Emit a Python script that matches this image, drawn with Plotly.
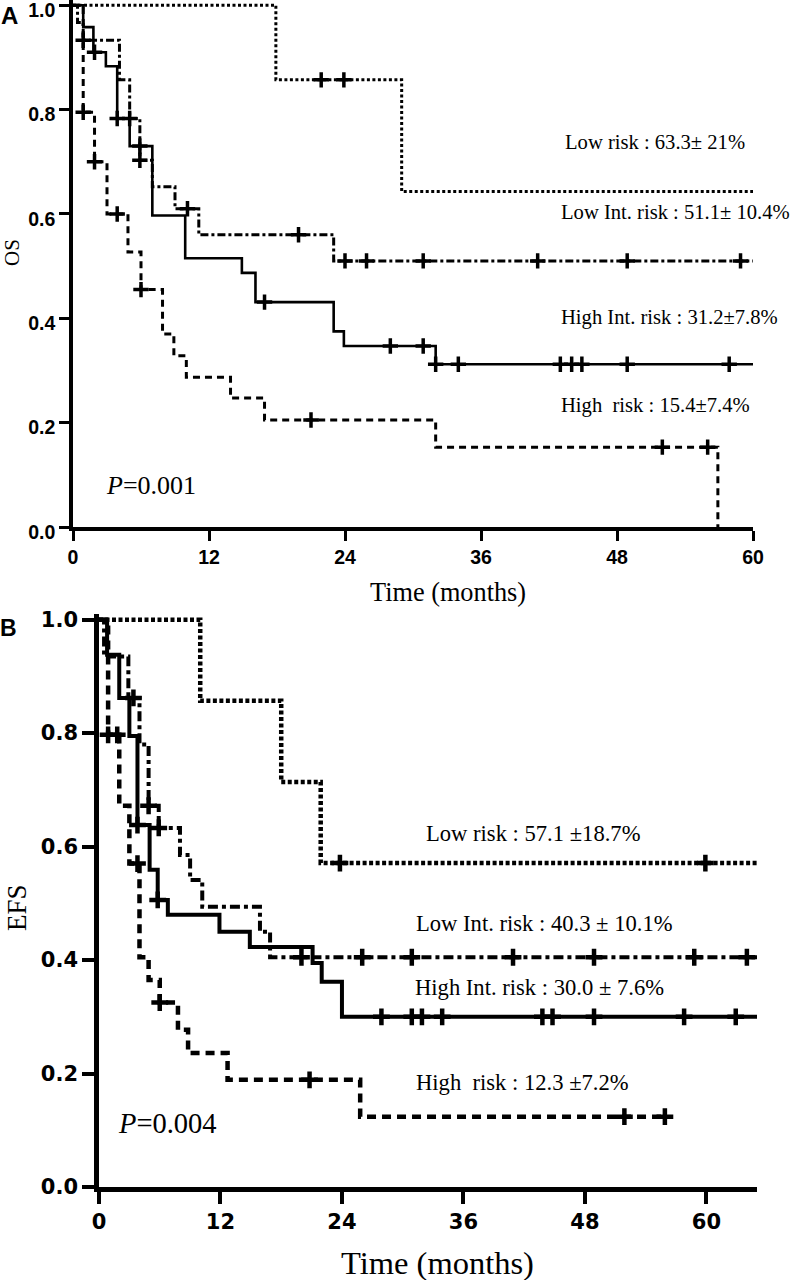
import plotly.graph_objects as go

W, H = 794, 1280

# ---------------- DATA ----------------
# Panel A : overall survival (OS)
os_low_t = [17.9, 29.0]
os_low_s = [0.857, 0.643]
os_low_end = 60
os_low_cens = [21.9, 23.9]

os_lowint_t = [0.4, 0.9, 4.1, 5.0, 5.9, 7.0, 9.0, 11.1, 23.0]
os_lowint_s = [0.967, 0.933, 0.857, 0.783, 0.703, 0.652, 0.61, 0.56, 0.51]
os_lowint_end = 60
os_lowint_cens = [0.9, 5.0, 5.9, 10.1, 19.9, 24.0, 25.9, 30.9, 41.0, 48.9, 58.9]

os_highint_t = [0.9, 1.8, 2.9, 3.9, 5.0, 7.0, 9.9, 14.9, 16.1, 23.0, 23.9, 32.0]
os_highint_s = [0.958, 0.91, 0.883, 0.783, 0.73, 0.597, 0.515, 0.487, 0.431, 0.375, 0.347, 0.312]
os_highint_end = 60
os_highint_cens = [1.9, 3.9, 5.9, 16.9, 28.0, 30.9, 32.0, 34.0, 43.0, 44.0, 44.9, 48.9, 57.9]

os_high_t = [0.9, 1.9, 3.0, 4.85, 6.0, 7.9, 8.9, 10.0, 13.9, 16.9, 32.0, 56.9]
os_high_s = [0.795, 0.70, 0.60, 0.527, 0.455, 0.37, 0.328, 0.287, 0.247, 0.205, 0.153, 0.0]
os_high_end = 56.9
os_high_cens = [0.9, 1.9, 3.9, 6.0, 21.0, 52.0, 56.0]

# Panel B : event-free survival (EFS)
efs_low_t = [10.0, 18.0, 21.9]
efs_low_s = [0.857, 0.714, 0.571]
efs_low_end = 65
efs_low_cens = [23.8, 59.9]

efs_lowint_t = [0.5, 2.9, 4.0, 4.9, 5.9, 8.0, 9.0, 10.2, 15.9, 16.9]
efs_lowint_s = [0.935, 0.862, 0.78, 0.672, 0.633, 0.585, 0.541, 0.494, 0.45, 0.405]
efs_lowint_end = 65
efs_lowint_cens = [3.4, 4.9, 5.9, 20.0, 26.0, 30.9, 40.9, 48.9, 58.8, 64.0]

efs_highint_t = [0.8, 2.0, 3.0, 3.8, 5.0, 5.8, 6.8, 11.9, 14.9, 21.1, 22.0, 24.0]
efs_highint_s = [0.938, 0.862, 0.795, 0.638, 0.559, 0.506, 0.48, 0.45, 0.423, 0.395, 0.362, 0.30]
efs_highint_end = 65
efs_highint_cens = [3.8, 5.8, 27.9, 30.9, 31.9, 33.9, 43.8, 44.8, 48.9, 57.8, 62.9]

efs_high_t = [0.9, 2.0, 3.0, 4.0, 4.9, 6.0, 7.8, 8.8, 12.7, 25.8]
efs_high_s = [0.797, 0.672, 0.57, 0.405, 0.365, 0.325, 0.277, 0.236, 0.189, 0.124]
efs_high_end = 55.9
efs_high_cens = [0.9, 1.8, 3.8, 6.0, 20.8, 51.9, 55.9]

x_ticks_a = [0, 12, 24, 36, 48, 60]
x_ticks_b = [0, 12, 24, 36, 48, 60]
y_ticks = [0.0, 0.2, 0.4, 0.6, 0.8, 1.0]

labels_a = ["Low risk : 63.3± 21%", "Low Int. risk : 51.1± 10.4%",
            "High Int. risk : 31.2±7.8%", "High\u00a0 risk : 15.4±7.4%"]
labels_b = ["Low risk : 57.1 ±18.7%", "Low Int. risk : 40.3 ± 10.1%",
            "High Int. risk : 30.0 ± 7.6%", "High\u00a0 risk : 12.3 ±7.2%"]


# ---------------- HELPERS ----------------
def km_xy(times, surv, end):
    return [0] + list(times) + [end], [1.0] + list(surv) + [surv[-1]]


def km_at(times, surv, t):
    s = 1.0
    for ti, si in zip(times, surv):
        if ti <= t + 1e-9:
            s = si
    return s


def px(x):
    return x / W


def py(y):
    return 1 - y / H


fig = go.Figure()

panels = [
    ("x", "y",
     [(os_low_t, os_low_s, os_low_end, os_low_cens, "3px,2.5px", 3),
      (os_lowint_t, os_lowint_s, os_lowint_end, os_lowint_cens, "8px,3px,3px,3px", 3),
      (os_highint_t, os_highint_s, os_highint_end, os_highint_cens, "solid", 2.6),
      (os_high_t, os_high_s, os_high_end, os_high_cens, "7px,5px", 3)],
     11, 3.5),
    ("x2", "y2",
     [(efs_low_t, efs_low_s, efs_low_end, efs_low_cens, "4px,2.5px", 4.5),
      (efs_lowint_t, efs_lowint_s, efs_lowint_end, efs_lowint_cens, "10px,4px,4px,4px", 4),
      (efs_highint_t, efs_highint_s, efs_highint_end, efs_highint_cens, "solid", 4),
      (efs_high_t, efs_high_s, efs_high_end, efs_high_cens, "9px,6px", 4.5)],
     12, 4.5),
]

for xa, ya, series, msize, mlw in panels:
    for t, s, end, cens, dash, lw in series:
        xs, ys = km_xy(t, s, end)
        fig.add_trace(go.Scatter(x=xs, y=ys, mode="lines", xaxis=xa, yaxis=ya,
                                 line=dict(color="black", width=lw, dash=dash, shape="hv"),
                                 hoverinfo="skip"))
        fig.add_trace(go.Scatter(x=cens, y=[km_at(t, s, c) for c in cens], mode="markers",
                                 xaxis=xa, yaxis=ya,
                                 marker=dict(symbol="cross-thin", size=msize, color="black",
                                             line=dict(width=mlw, color="black")),
                                 hoverinfo="skip"))

tick_a = dict(family="Liberation Sans", size=19.5, color="black", weight="bold")
tick_b = dict(family="DejaVu Sans", size=21, color="black", weight="bold")

common = dict(showline=True, linecolor="black", ticks="outside", tickcolor="black",
              showgrid=False, zeroline=False, automargin=False, ticklabeloverflow="allow")

fig.update_layout(
    width=W, height=H, margin=dict(l=0, r=0, t=0, b=0, autoexpand=False),
    paper_bgcolor="white", plot_bgcolor="white", showlegend=False,
    xaxis=dict(domain=[px(73), px(753)], range=[0, 60], tickvals=x_ticks_a,
               linewidth=3.5, ticklen=10, tickwidth=3, tickfont=tick_a, anchor="y", **common),
    yaxis=dict(domain=[py(527), 1.0], range=[0, 1.01], tickvals=y_ticks,
               ticktext=[f"{v:.1f}" for v in y_ticks], ticklabelshift=5,
               linewidth=3.5, ticklen=10, tickwidth=3, tickfont=tick_a, anchor="x", **common),
    xaxis2=dict(domain=[px(99), px(757)], range=[0, 65], tickvals=x_ticks_b,
                linewidth=4.5, ticklen=12, tickwidth=4, tickfont=tick_b, anchor="y2", **common),
    yaxis2=dict(domain=[py(1187), py(614)], range=[0, 1.01], tickvals=y_ticks,
                ticktext=[f"{v:.1f}" for v in y_ticks],
                linewidth=4.5, ticklen=12, tickwidth=4, tickfont=tick_b, anchor="x2", **common),
)

serif = "Liberation Serif"
ann = []


def add_text(text, x, y, size, xanchor="left", angle=0, family=serif, bold=False):
    ann.append(dict(text=text, x=px(x), y=py(y), xref="paper", yref="paper",
                    xanchor=xanchor, yanchor="middle", showarrow=False, textangle=angle,
                    borderpad=0,
                    font=dict(family=family, size=size, color="black",
                              weight="bold" if bold else "normal")))


# Panel A texts
add_text(labels_a[0], 564, 142, 20.6)
add_text(labels_a[1], 560, 212, 20.6)
add_text(labels_a[2], 560, 317, 20.6)
add_text(labels_a[3], 560, 405, 20.6)
add_text("<i>P</i>=0.001", 105, 485, 26)
add_text("Time (months)", 448, 592, 26.3, xanchor="center")
add_text("OS", 12, 253, 21, xanchor="center", angle=-90)
add_text("A", 9, 15, 24, xanchor="center", family="Liberation Sans", bold=True)

# Panel B texts
add_text(labels_b[0], 425, 833, 22.6)
add_text(labels_b[1], 415, 923, 22.6)
add_text(labels_b[2], 414, 987, 22.6)
add_text(labels_b[3], 415, 1082, 22.6)
add_text("<i>P</i>=0.004", 117, 1123, 28.5)
add_text("Time (months)", 437, 1263, 32.5, xanchor="center")
add_text("EFS", 17, 908, 27, xanchor="center", angle=-90)
add_text("B", 8, 628, 23, xanchor="center", family="Liberation Sans", bold=True)

fig.update_layout(annotations=ann)

fig.write_html("out.html",
               config={"displayModeBar": False},
               post_script="document.body.style.margin='0px';"
                           "document.body.style.overflow='hidden';")
